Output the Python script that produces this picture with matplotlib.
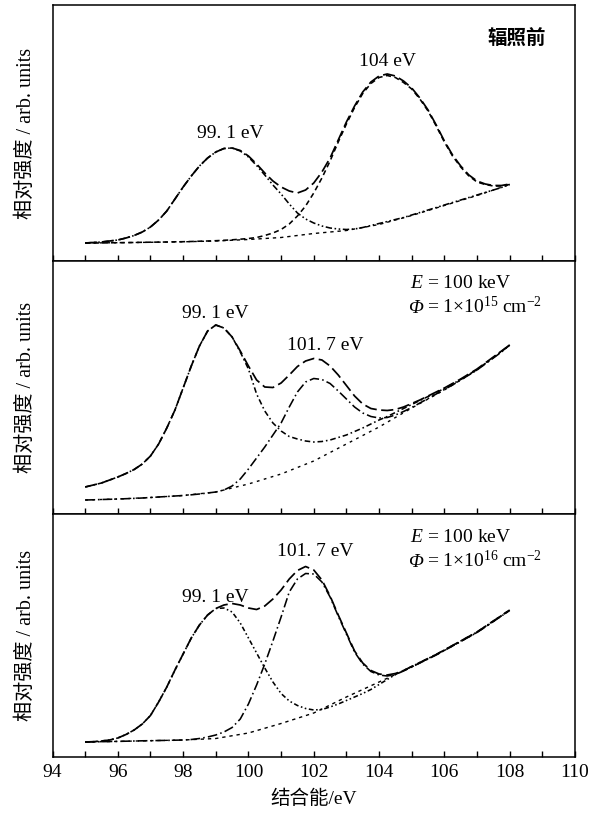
import numpy as np
import matplotlib.pyplot as plt

plt.rcParams['font.family'] = ['Liberation Serif', 'Noto Sans CJK SC']
plt.rcParams['mathtext.fontset'] = 'custom'
plt.rcParams['mathtext.rm'] = 'Liberation Serif'
plt.rcParams['mathtext.it'] = 'Liberation Serif:italic'

# binding energy grid (eV) for the fitted curves, coarse grid for backgrounds
energy = np.arange(95.0, 108.01, 0.25)
energy_bg = [95, 96, 97, 98, 99, 100, 101, 102, 103, 104, 105, 106, 107, 108]

# ---- before irradiation (heights in px above the panel floor)
env_1 = [18, 18.5, 19, 20, 21, 23, 25.5, 29, 34, 41, 50, 62, 74, 85, 95, 103, 109, 112.5, 113, 110.5,
         105, 97, 88, 80, 74, 70, 68, 71, 78, 89, 103, 121, 139, 155, 169, 179, 185, 187, 185, 180,
         173, 163, 151, 136, 120, 106, 95, 86, 80, 77, 75.5, 75.5, 77]
peak1_1 = [18, 18.5, 19, 20, 21, 23, 25.5, 29, 34, 41, 50, 62, 74, 85, 95, 103, 109, 112.5, 113, 110,
           104, 95.5, 86, 76, 67, 57, 48, 42, 38, 35, 33, 32, 31.5, 32, 33.5, 35.5, 37.5, 39.5, 41.5, 43.5,
           46, 48.5, 51, 53.5, 56, 58.5, 61, 63.5, 66, 68.5, 71, 73.5, 76.5]
peak2_1 = [18, 18, 18, 18.2, 18.3, 18.4, 18.5, 18.7, 18.8, 18.9, 19, 19.2, 19.3, 19.5, 19.8, 20, 20.3, 20.7, 21.2, 21.8,
           22.5, 23.5, 25.5, 28, 31.5, 37, 45, 55, 68, 83, 100, 119, 137, 153.5, 167.5, 177.5, 183.5, 185.5, 183.5, 178.5,
           172, 162, 150, 135, 119, 105, 94, 85, 79, 76.5, 75, 75, 76.5]
bg_1 = [18, 18.3, 18.7, 19.2, 20, 21.5, 23.5, 27.5, 30.5, 36.5, 45.5, 55.5, 65.5, 76.5]

# ---- E = 100 keV, 1e15 cm^-2
env_2 = [27, 29, 31, 34, 37, 40.5, 44.5, 50, 58, 70, 86, 104, 126, 148, 168, 183, 189, 186, 177, 163,
         148, 134, 127, 126.5, 131, 139, 147.5, 153, 155.5, 154, 148, 139, 128.5, 118, 110, 105.5, 104, 103.5, 104.5, 107,
         110.5, 114, 118, 122, 126, 130.5, 135, 140, 145, 151, 157, 163, 169]
peak1_2 = [27, 29, 31, 34, 37, 40.5, 44.5, 50, 58, 70, 86, 104, 126, 148, 168, 183, 189, 186, 177, 162,
           145, 120, 103, 91, 83, 77.5, 75, 73, 72, 72.5, 74, 76.5, 79, 82.5, 86, 90, 94, 97.5, 101.5, 105.5,
           109.5, 113.5, 117.5, 121.5, 125.5, 130, 134.5, 139.5, 144.5, 150.5, 156.5, 162.5, 169]
peak2_2 = [14, 14.2, 14.5, 14.7, 15, 15.3, 15.6, 16, 16.5, 17, 17.5, 18, 18.5, 19.2, 20, 21, 22, 24, 28, 35,
           45, 56, 67, 79, 91, 107, 122, 132, 135.5, 134.5, 130.5, 123, 115, 107, 101, 97.5, 96, 96.5, 99, 102.5,
           106.5, 111, 115.5, 120, 124.5, 129, 134, 139, 144, 150, 156, 162, 169]
bg_2 = [14, 15, 16.5, 18.5, 22, 30, 40, 53, 70, 87, 106, 124, 144, 169]

# ---- E = 100 keV, 1e16 cm^-2
env_3 = [15, 15.3, 16, 17, 19, 22.5, 27, 33, 41.5, 55, 70, 87, 103, 119, 132, 142, 148.5, 152, 153.5, 152,
         149, 147.5, 151, 158, 167, 178, 186.5, 190.5, 187, 177, 161, 142, 124, 106, 94, 86.5, 83, 82, 83.5, 86.5,
         90.5, 94.5, 98.5, 102.5, 107, 111.5, 116, 120.5, 125, 130.5, 136, 141.5, 147]
peak1_3 = [15, 15.3, 16, 17, 19, 22.5, 27, 33, 41.5, 55, 70, 87, 103, 119, 132, 142, 148.5, 149, 145, 134,
           119, 104, 89, 75, 63.5, 56, 51.5, 48.5, 47, 47.5, 50, 53, 56.5, 60, 63.5, 67.5, 72.5, 77.5, 82.5, 86.5,
           90.5, 94.5, 98.5, 102.5, 107, 111.5, 116, 120.5, 125, 130.5, 136, 141.5, 147]
peak2_3 = [15, 15.2, 15.3, 15.5, 15.6, 15.8, 16, 16.2, 16.3, 16.5, 16.6, 16.8, 17, 17.5, 18.5, 20, 22, 25, 29.5, 38,
           53, 72, 93, 116, 140, 165, 178, 183.5, 183, 175, 160, 141, 123, 105, 93, 85.5, 82, 81, 82.5, 86,
           90, 94, 98, 102, 106.5, 111, 115.5, 120, 124.5, 130, 135.5, 141, 146.5]
bg_3 = [15, 15.6, 16.3, 17, 18.5, 24, 33.5, 44, 60, 75, 90, 106.5, 124.5, 146.5]

xticks = [94, 96, 98, 100, 102, 104, 106, 108, 110]

LONG = (0, (7, 2.6))
styles = [
  # envelope, component 1, component 2, background
  [LONG, (0, (4, 1.6, 1, 1.6, 1, 1.6)), (0, (3.2, 2.2)), (0, (2.4, 2.8))],
  [LONG, (0, (3.5, 1.8, 1, 1.8)), (0, (6, 2, 1, 2)), (0, (2, 3.2))],
  [LONG, (0, (3, 1.6, 1, 1.6, 1, 1.6)), (0, (6, 2, 1, 2)), (0, (2.4, 2.8))],
]

fs = 14

def phi_label(ax, x, y, text):
  """ italic Phi followed by the dose text """
  ax.text(x, y, 'Φ', fontsize=fs, fontstyle='italic', ha='left', va='baseline')
  ax.annotate(text, xy=(x, y), xytext=(13, 0), textcoords='offset points',
              fontsize=fs, ha='left', va='baseline')

fig = plt.figure(figsize=(5.91, 8.18), dpi=100)
W, H = 591., 818.
left, right = 52.5, 575.
# panel edges in pixels from the top
edges = [(5, 261), (261, 514), (514, 757)]
axs = []
for top, bot in edges:
  ax = fig.add_axes([left/W, 1-bot/H, (right-left)/W, (bot-top)/H])
  ax.set_xlim(94, 110)
  ax.set_ylim(0, bot-top)
  axs.append(ax)

curves = [(env_1, peak1_1, peak2_1, bg_1), (env_2, peak1_2, peak2_2, bg_2), (env_3, peak1_3, peak2_3, bg_3)]
for ax, (env, p1, p2, bg), st in zip(axs, curves, styles):
  ax.plot(energy_bg, bg, color='black', lw=1.0, linestyle=st[3])
  ax.plot(energy, p2, color='black', lw=1.15, linestyle=st[2])
  ax.plot(energy, p1, color='black', lw=1.15, linestyle=st[1])
  ax.plot(energy, env, color='black', lw=1.25, linestyle=st[0])
  ax.set_xticks(np.arange(94, 111, 1))
  ax.tick_params(axis='x', direction='in', length=4, width=1, labelbottom=False)
  ax.set_yticks([])
  for sp in ax.spines.values():
    sp.set_linewidth(1.1)
  ax.set_ylabel('相对强度 / arb. units', fontsize=14.5, labelpad=12)

axs[2].tick_params(axis='x', labelbottom=True, labelsize=fs, pad=5)
axs[2].set_xticks(np.arange(94, 111, 1))
axs[2].set_xticklabels([str(v) if v in xticks else '' for v in range(94, 111)])
axs[2].set_xlabel('结合能/eV', fontsize=fs, labelpad=6)

axs[0].text(108.2, 222, '辐照前', fontsize=fs, ha='center', va='center',
            family=['Noto Sans CJK SC'], fontweight='bold')
axs[0].text(104.25, 199, '104 eV', fontsize=fs, ha='center', va='center')
axs[0].text(99.45, 128, '99. 1 eV', fontsize=fs, ha='center', va='center')

axs[1].text(99.0, 201, '99. 1 eV', fontsize=fs, ha='center', va='center')
axs[1].text(102.35, 169, '101. 7 eV', fontsize=fs, ha='center', va='center')
axs[1].text(104.95, 226, r'$E$ = 100 keV', fontsize=fs, ha='left', va='baseline')
phi_label(axs[1], 104.9, 201, r'= 1$\times$10$^{15}$ cm$^{-2}$')

axs[2].text(102.05, 205, '101. 7 eV', fontsize=fs, ha='center', va='center')
axs[2].text(99.0, 160, '99. 1 eV', fontsize=fs, ha='center', va='center')
axs[2].text(104.95, 215, r'$E$ = 100 keV', fontsize=fs, ha='left', va='baseline')
phi_label(axs[2], 104.9, 190, r'= 1$\times$10$^{16}$ cm$^{-2}$')

fig.savefig('out.png', dpi=100)
